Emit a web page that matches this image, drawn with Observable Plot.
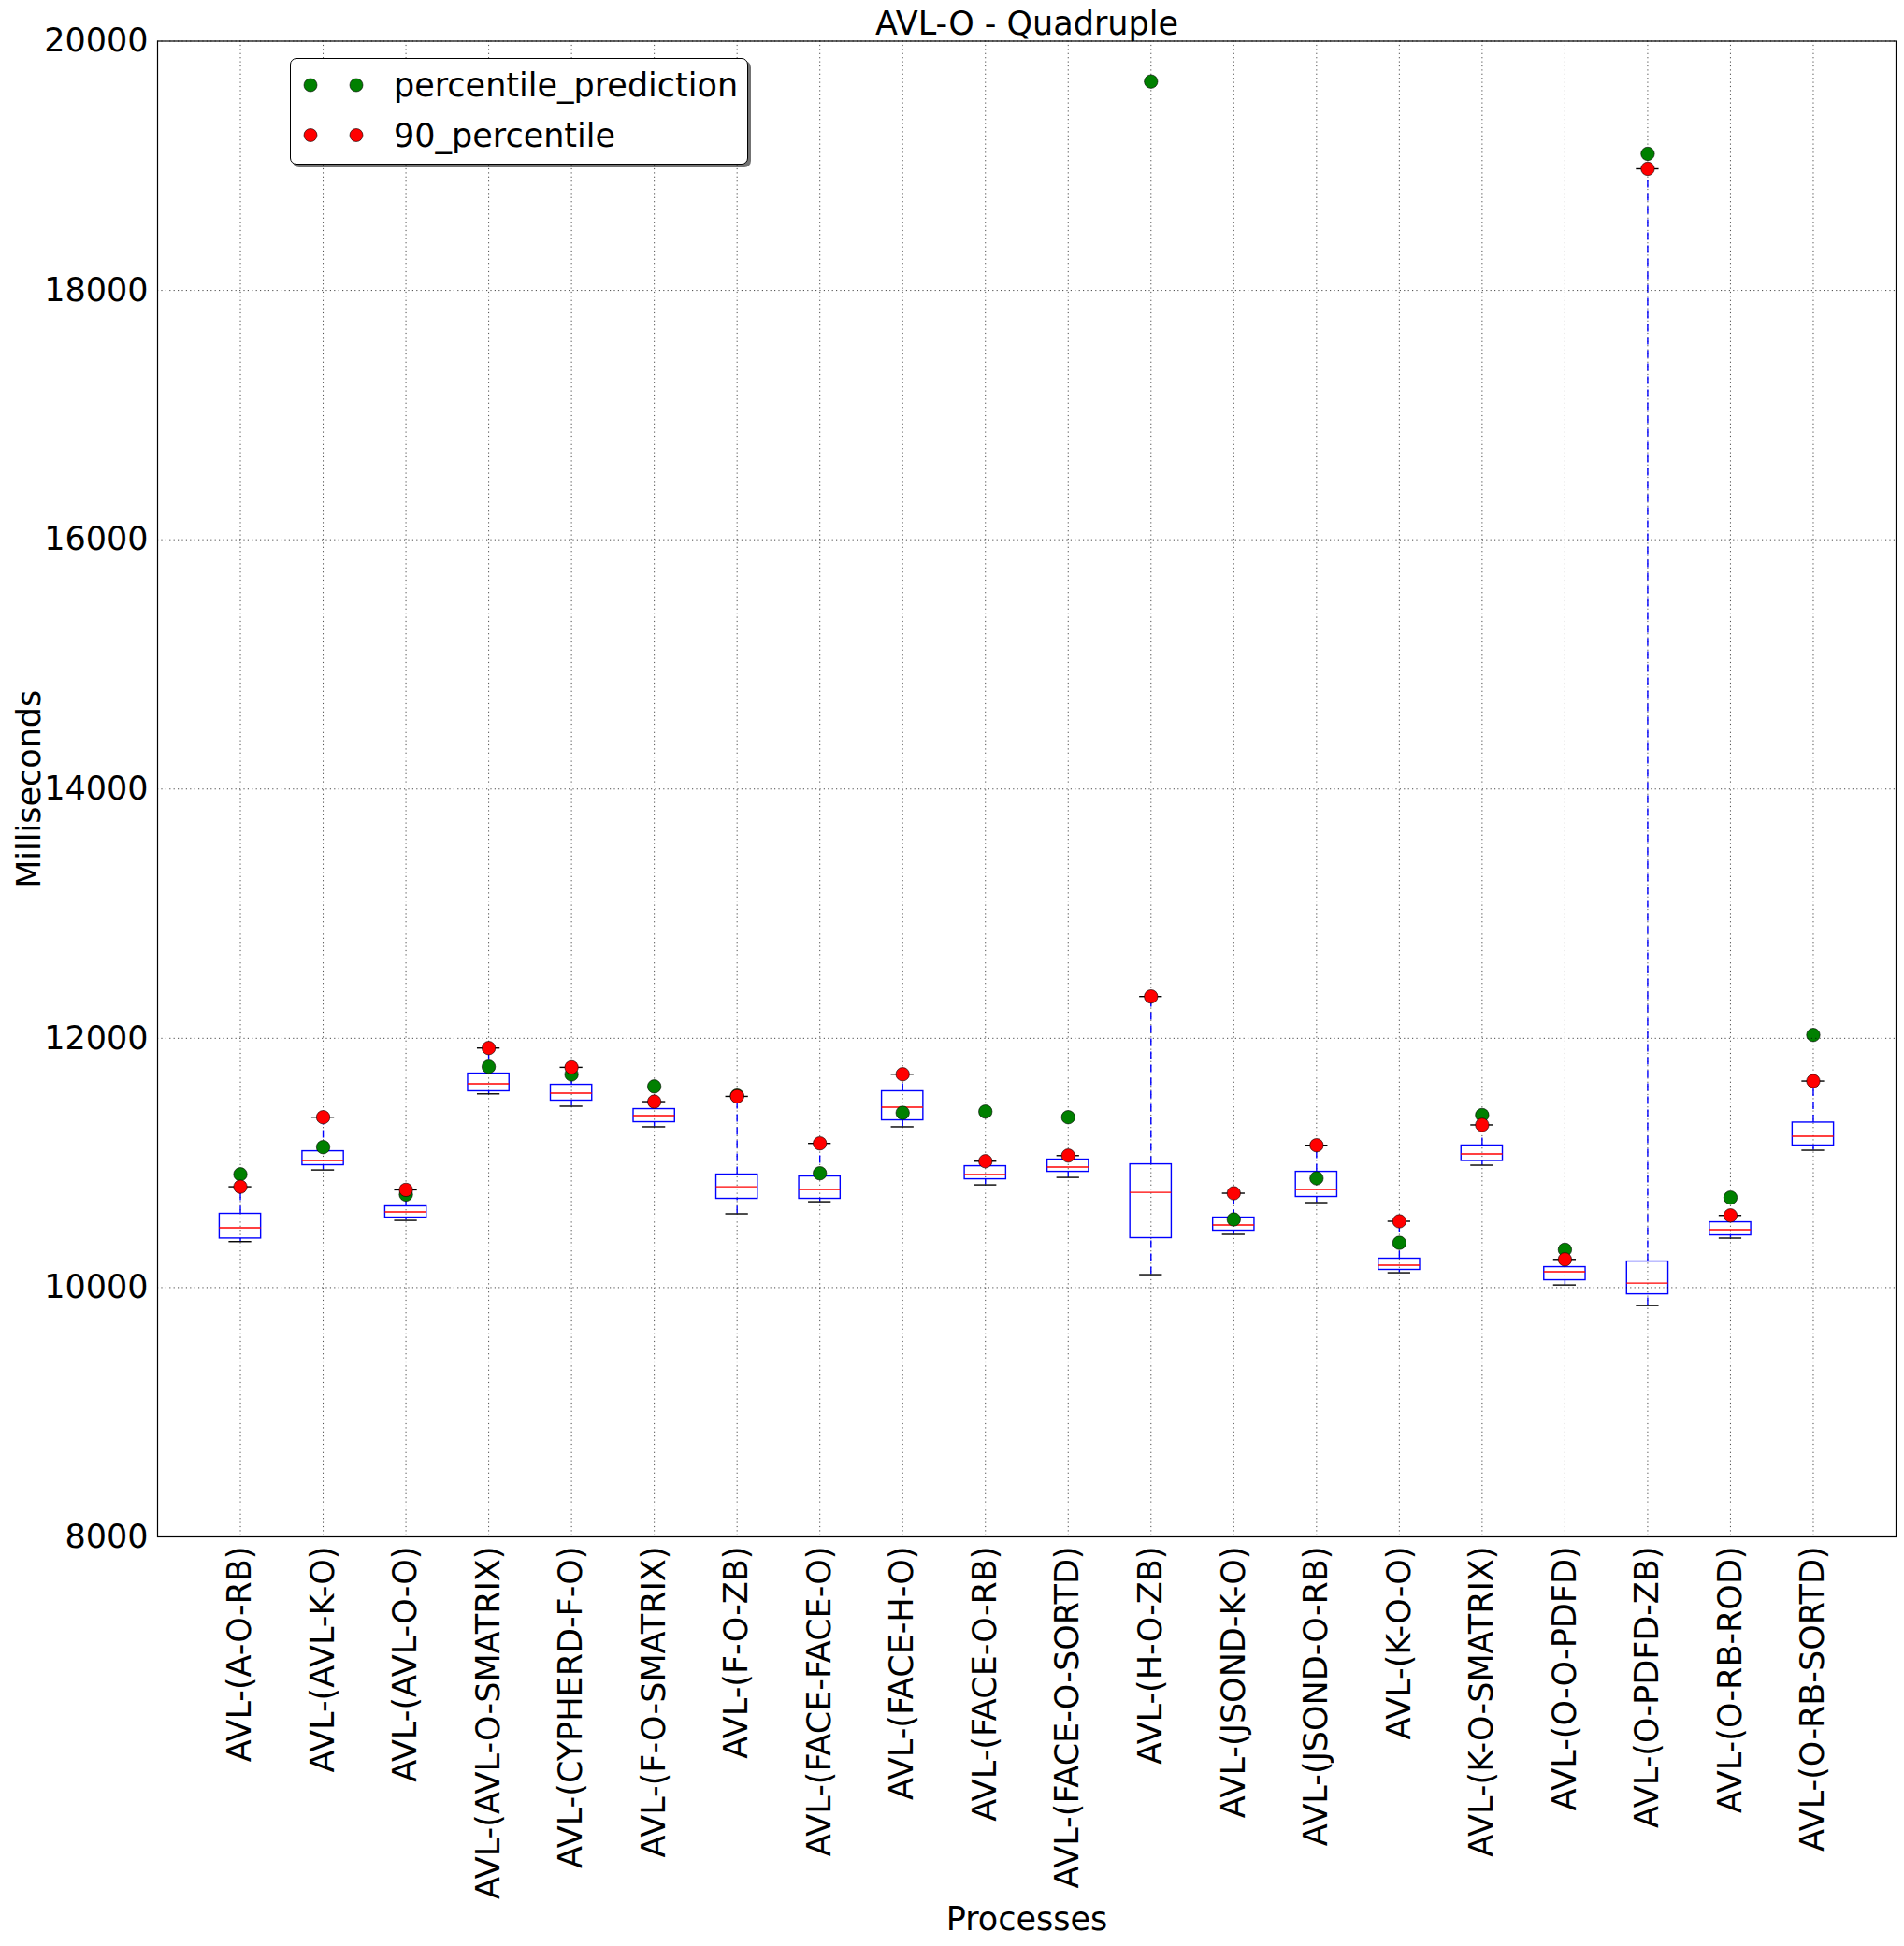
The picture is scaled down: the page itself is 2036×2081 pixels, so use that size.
<!DOCTYPE html>
<html><head><meta charset="utf-8">
<script src="https://cdn.jsdelivr.net/npm/d3@7"></script>
<script src="https://cdn.jsdelivr.net/npm/@observablehq/plot@0.6"></script>
<style>
body{margin:0;background:#fff;}
#wrap{position:relative;width:2036px;height:2081px;font-family:"DejaVu Sans";}
#legend{position:absolute;left:310px;top:62px;width:490px;height:114px;border:1.4px solid #000;border-radius:7px;background:#fff;box-shadow:3px 3px 0 rgba(0,0,0,0.55);box-sizing:border-box;}
#legend svg{position:absolute;left:0;top:0;overflow:visible;}
</style></head><body><div id="wrap"></div>
<script>
const categories = ["AVL-(A-O-RB)", "AVL-(AVL-K-O)", "AVL-(AVL-O-O)", "AVL-(AVL-O-SMATRIX)", "AVL-(CYPHERD-F-O)", "AVL-(F-O-SMATRIX)", "AVL-(F-O-ZB)", "AVL-(FACE-FACE-O)", "AVL-(FACE-H-O)", "AVL-(FACE-O-RB)", "AVL-(FACE-O-SORTD)", "AVL-(H-O-ZB)", "AVL-(JSOND-K-O)", "AVL-(JSOND-O-RB)", "AVL-(K-O-O)", "AVL-(K-O-SMATRIX)", "AVL-(O-O-PDFD)", "AVL-(O-PDFD-ZB)", "AVL-(O-RB-ROD)", "AVL-(O-RB-SORTD)"];
const percentilePrediction = [10909, 11127, 10746, 11772, 11710, 11614, 11540, 10917, 11402, 11412, 11367, 19676, 10547, 10877, 10359, 11384, 10304, 19096, 10722, 12027];
const percentile90 = [10809, 11367, 10784, 11922, 11767, 11492, 11534, 11157, 11712, 11014, 11059, 12335, 10757, 11142, 10532, 11305, 10226, 18976, 10579, 11657];
const whiskerLow = [10369, 10944, 10539, 11554, 11455, 11290, 10592, 10689, 11290, 10824, 10884, 10104, 10427, 10682, 10119, 10982, 10021, 9856, 10397, 11102];
const q1 = [10394, 10982, 10562, 11575, 11500, 11327, 10712, 10712, 11342, 10869, 10929, 10397, 10457, 10727, 10142, 11016, 10059, 9946, 10419, 11140];
const median = [10479, 11019, 10607, 11635, 11560, 11380, 10809, 10787, 11447, 10907, 10967, 10764, 10502, 10787, 10179, 11072, 10127, 10036, 10464, 11215];
const q3 = [10592, 11094, 10652, 11717, 11627, 11432, 10907, 10892, 11575, 10974, 11027, 10989, 10562, 10929, 10232, 11140, 10164, 10209, 10524, 11324];
const whiskerHigh = [10809, 11367, 10784, 11922, 11767, 11492, 11534, 11157, 11712, 11014, 11059, 12335, 10757, 11142, 10532, 11305, 10226, 18976, 10579, 11657];
const yTicks = [8000, 10000, 12000, 14000, 16000, 18000, 20000];
const title = "AVL-O - Quadruple";
const xLabel = "Processes";
const yLabel = "Milliseconds";
const legendLabels = ["percentile_prediction", "90_percentile"];
const legendColors = ["#008000", "#ff0000"];

const rows = categories.map((name, i) => ({
  name, pred: percentilePrediction[i], p90: percentile90[i], lo: whiskerLow[i],
  q1: q1[i], med: median[i], q3: q3[i], hi: whiskerHigh[i]
}));

const FS = 35;
const grid = {stroke: "#000", strokeWidth: 0.8, strokeDasharray: "1.2,3.2", strokeOpacity: 0.9};

const chart = Plot.plot({
  width: 2036, height: 2081,
  marginLeft: 168, marginRight: 9, marginTop: 43.5, marginBottom: 438,
  style: {fontFamily: "DejaVu Sans", fontSize: FS + "px", background: "white", overflow: "visible", color: "black"},
  x: {domain: categories, round: false, paddingInner: 0.5, paddingOuter: 0.75, tickRotate: -90, tickSize: 0, tickPadding: 10, label: null},
  y: {domain: [8000, 20000], ticks: yTicks, tickFormat: d => String(d), tickSize: 0, tickPadding: 10, label: null},
  marks: [
    Plot.ruleX(categories, {x: d => d, ...grid}),
    Plot.ruleX(rows, {x: "name", y1: "q3", y2: "hi", stroke: "#0000ff", strokeWidth: 1.4, strokeDasharray: "8,6"}),
    Plot.ruleX(rows, {x: "name", y1: "lo", y2: "q1", stroke: "#0000ff", strokeWidth: 1.4, strokeDasharray: "8,6"}),
    Plot.tickY(rows, {x: "name", y: "hi", stroke: "#000", strokeWidth: 1.4, insetLeft: 10, insetRight: 10}),
    Plot.tickY(rows, {x: "name", y: "lo", stroke: "#000", strokeWidth: 1.4, insetLeft: 10, insetRight: 10}),
    Plot.barY(rows, {x: "name", y1: "q1", y2: "q3", fill: "none", stroke: "#0000ff", strokeWidth: 1.4}),
    Plot.tickY(rows, {x: "name", y: "med", stroke: "#ff0000", strokeWidth: 1.4}),
    Plot.dot(rows, {x: "name", y: "pred", r: 7.2, fill: legendColors[0], stroke: "#000", strokeWidth: 0.6}),
    Plot.dot(rows, {x: "name", y: "p90", r: 7.2, fill: legendColors[1], stroke: "#000", strokeWidth: 0.6}),
    Plot.ruleY(yTicks, {y: d => d, ...grid}),
    Plot.frame({stroke: "#000", strokeWidth: 1.2}),
    Plot.text([title], {text: d => d, frameAnchor: "top", textAnchor: "middle", dy: -7, lineAnchor: "bottom", fontSize: FS}),
    Plot.text([xLabel], {text: d => d, frameAnchor: "bottom", textAnchor: "middle", dy: 420, lineAnchor: "bottom", fontSize: FS}),
    Plot.text([yLabel], {text: d => d, frameAnchor: "left", textAnchor: "middle", dx: -126, rotate: -90, lineAnchor: "bottom", fontSize: FS})
  ]
});

const wrap = document.getElementById("wrap");
wrap.appendChild(chart);

const legend = document.createElement("div");
legend.id = "legend";
const ns = "http://www.w3.org/2000/svg";
const lsvg = document.createElementNS(ns, "svg");
lsvg.setAttribute("width", 490); lsvg.setAttribute("height", 114);
legendLabels.forEach((lab, i) => {
  const cy = 28 + i * 53.5;
  [21, 70].forEach(cx => {
    const c = document.createElementNS(ns, "circle");
    c.setAttribute("cx", cx); c.setAttribute("cy", cy); c.setAttribute("r", 7);
    c.setAttribute("fill", legendColors[i]); c.setAttribute("stroke", "#000"); c.setAttribute("stroke-width", 0.6);
    lsvg.appendChild(c);
  });
  const t = document.createElementNS(ns, "text");
  t.setAttribute("x", 110); t.setAttribute("y", cy);
  t.setAttribute("dy", "0.35em");
  t.setAttribute("font-family", "DejaVu Sans"); t.setAttribute("font-size", FS);
  t.textContent = lab;
  lsvg.appendChild(t);
});
legend.appendChild(lsvg);
wrap.appendChild(legend);
</script>
</body></html>
